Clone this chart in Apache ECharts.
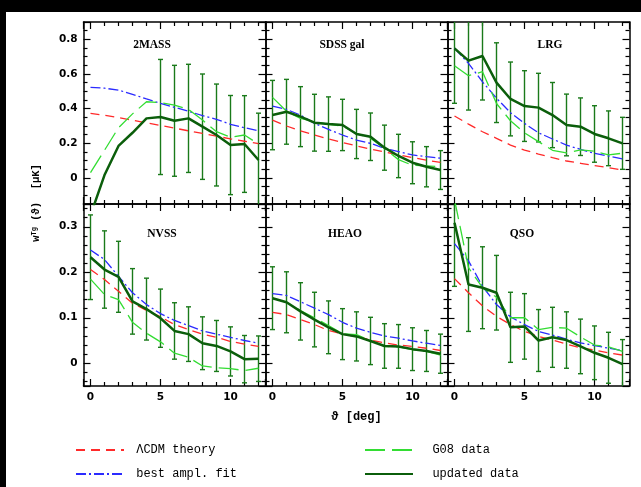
<!DOCTYPE html>
<html>
<head>
<meta charset="utf-8">
<script src="https://cdn.jsdelivr.net/npm/echarts@6/dist/echarts.min.js"></script>
<style>
html,body{margin:0;padding:0;background:#fff;}
#chart{width:641px;height:487px;}
</style>
</head>
<body>
<div id="chart"></div>
<script>
// angular separation (deg)
const theta = [0,1,2,3,4,5,6,7,8,9,10,11,12];
const panelNames = ['2MASS','SDSS gal','LRG','NVSS','HEAO','QSO'];
const seriesNames = ['\u039bCDM theory','best ampl. fit','G08 data','updated data'];

// 2MASS
const theory2MASS = [0.373,0.362,0.348,0.333,0.318,0.303,0.288,0.272,0.257,0.241,0.226,0.212,0.198];
const fit2MASS    = [0.523,0.518,0.507,0.483,0.456,0.430,0.408,0.385,0.360,0.338,0.310,0.290,0.273];
const g08_2MASS   = [0.031,0.160,0.290,0.370,0.440,0.435,0.421,0.396,0.334,0.267,0.235,0.248,0.196];
const upd2MASS    = [-0.215,0.017,0.185,0.261,0.344,0.352,0.330,0.344,0.296,0.248,0.190,0.196,0.104];
const err2MASS    = [null,null,null,null,null,0.332,0.320,0.312,0.304,0.294,0.286,0.279,0.270];
// SDSS gal
const theorySDSS = [0.334,0.300,0.272,0.248,0.225,0.205,0.185,0.167,0.150,0.133,0.118,0.103,0.090];
const fitSDSS    = [0.415,0.396,0.363,0.315,0.280,0.248,0.219,0.200,0.171,0.152,0.133,0.123,0.114];
const g08SDSS    = [0.465,0.385,0.344,0.325,0.310,0.300,0.256,0.230,0.170,0.106,0.073,0.070,0.065];
const updSDSS    = [0.363,0.382,0.354,0.319,0.311,0.306,0.254,0.238,0.175,0.127,0.088,0.065,0.046];
const errSDSS    = [0.200,0.187,0.173,0.164,0.157,0.148,0.142,0.137,0.130,0.125,0.121,0.116,0.112];
// LRG
const theoryLRG = [0.358,0.311,0.267,0.229,0.190,0.161,0.138,0.117,0.098,0.085,0.071,0.060,0.046];
const fitLRG    = [0.748,0.661,0.555,0.460,0.377,0.315,0.261,0.225,0.190,0.165,0.142,0.127,0.110];
const g08LRG    = [0.648,0.590,0.613,0.430,0.330,0.260,0.210,0.160,0.145,0.162,0.155,0.133,0.143];
const updLRG    = [0.748,0.677,0.704,0.550,0.456,0.415,0.406,0.363,0.306,0.296,0.254,0.229,0.200];
const errLRG    = [0.317,0.285,0.254,0.230,0.213,0.204,0.198,0.188,0.178,0.166,0.163,0.158,0.150];
// NVSS
const theoryNVSS = [0.206,0.184,0.158,0.132,0.116,0.102,0.085,0.074,0.064,0.057,0.048,0.042,0.037];
const fitNVSS    = [0.249,0.228,0.191,0.155,0.129,0.109,0.094,0.083,0.071,0.064,0.057,0.050,0.044];
const g08NVSS    = [0.185,0.151,0.140,0.090,0.066,0.047,0.022,0.013,-0.006,-0.010,-0.012,-0.016,-0.011];
const updNVSS    = [0.233,0.206,0.190,0.136,0.119,0.099,0.071,0.064,0.044,0.038,0.026,0.009,0.010];
const errNVSS    = [0.093,0.085,0.078,0.072,0.068,0.064,0.062,0.060,0.058,0.056,0.054,0.052,0.050];
// HEAO
const theoryHEAO = [0.112,0.107,0.096,0.085,0.072,0.064,0.059,0.051,0.045,0.040,0.037,0.033,0.028];
const fitHEAO    = [0.153,0.149,0.135,0.121,0.107,0.090,0.077,0.068,0.060,0.055,0.049,0.044,0.039];
const g08HEAO    = [0.143,0.134,0.116,0.100,0.083,0.065,0.063,0.050,0.037,0.036,0.030,0.026,0.018];
const updHEAO    = [0.143,0.134,0.114,0.096,0.079,0.064,0.059,0.049,0.038,0.037,0.031,0.027,0.021];
const errHEAO    = [0.069,0.067,0.063,0.060,0.058,0.056,0.054,0.052,0.049,0.048,0.047,0.045,0.043];
// QSO
const theoryQSO = [0.186,0.155,0.126,0.103,0.085,0.070,0.059,0.051,0.042,0.034,0.029,0.023,0.018];
const fitQSO    = [0.263,0.225,0.169,0.129,0.102,0.085,0.070,0.062,0.053,0.045,0.039,0.033,0.028];
const g08QSO    = [0.360,0.210,0.166,0.145,0.100,0.100,0.074,0.079,0.077,0.058,0.040,0.036,0.026];
const updQSO    = [0.309,0.173,0.166,0.155,0.079,0.081,0.050,0.057,0.051,0.037,0.023,0.012,-0.002];
const errQSO    = [0.140,0.103,0.090,0.082,0.077,0.072,0.068,0.066,0.062,0.060,0.059,0.056,0.054];

const panels = [
  [theory2MASS, fit2MASS, g08_2MASS, upd2MASS, err2MASS],
  [theorySDSS, fitSDSS, g08SDSS, updSDSS, errSDSS],
  [theoryLRG, fitLRG, g08LRG, updLRG, errLRG],
  [theoryNVSS, fitNVSS, g08NVSS, updNVSS, errNVSS],
  [theoryHEAO, fitHEAO, g08HEAO, updHEAO, errHEAO],
  [theoryQSO, fitQSO, g08QSO, updQSO, errQSO]
];

const titlePos = [[152,45],[342,45],[550,45],[162,234.5],[345,234.5],[522,234.5]];

const C_RED = '#ff2a2a', C_BLUE = '#2b2bff', C_LG = '#33dd33', C_DG = '#0b5e0b', C_ERR = '#1a7a1a';
const tickFont = {fontFamily:'DejaVu Sans', fontWeight:'bold', fontSize:10.5, color:'#000'};

const grids = [], xAxes = [], yAxes = [], series = [], graphics = [];
const GL = 83.5, GT = 22, GW = 182, GH = 182;

for (let g = 0; g < 6; g++) {
  const col = g % 3, row = Math.floor(g / 3);
  grids.push({left: GL + GW*col, top: GT + GH*row, width: GW, height: GH, containLabel:false});
  const axisLine = {show:true, onZero:false, lineStyle:{color:'#000', width:1.5}};
  const tick = {show:true, inside:true, length:7, lineStyle:{color:'#000', width:1.2}};
  const mtick = (n) => ({show:true, splitNumber:n, length:4, lineStyle:{color:'#000', width:1.2}});
  ['bottom','top'].forEach(pos => {
    xAxes.push({
      gridIndex:g, type:'value', position:pos, min:-0.5, max:12.5, splitNumber:3,
      axisLine, axisTick:tick, minorTick:mtick(5), splitLine:{show:false}, minorSplitLine:{show:false},
      axisLabel: Object.assign({show: row===1 && pos==='bottom', margin:6, showMinLabel:false, showMaxLabel:false}, tickFont),
      name: (g===4 && pos==='bottom') ? '\u03d1 [deg]' : '',
      nameLocation:'middle', nameGap:25,
      nameTextStyle:{fontFamily:'Liberation Mono, DejaVu Sans Mono', fontSize:12, color:'#000', fontWeight:'bold'}
    });
  });
  ['left','right'].forEach(pos => {
    yAxes.push({
      gridIndex:g, type:'value', position:pos,
      min: row===0 ? -0.15 : -0.05, max: row===0 ? 0.9 : 0.35, splitNumber: row===0 ? 5 : 4,
      axisLine, axisTick:tick, minorTick:mtick(row===0 ? 4 : 5), splitLine:{show:false}, minorSplitLine:{show:false},
      axisLabel: Object.assign({show: col===0 && pos==='left', margin:6, showMinLabel:false, showMaxLabel:false}, tickFont)
    });
  });
  const xi = 2*g, yi = 2*g;
  const [th, fi, g8, up, er] = panels[g];
  const pts = arr => theta.map((t,i) => [t, arr[i]]);
  series.push({name:seriesNames[0], type:'line', xAxisIndex:xi, yAxisIndex:yi, data:pts(th), symbol:'none', clip:true,
    lineStyle:{color:C_RED, width:1.3, type:[9,6]}, itemStyle:{color:C_RED}, silent:true, animation:false});
  series.push({name:seriesNames[1], type:'line', xAxisIndex:xi, yAxisIndex:yi, data:pts(fi), symbol:'none', clip:true,
    lineStyle:{color:C_BLUE, width:1.3, type:[10,3,2,3]}, itemStyle:{color:C_BLUE}, silent:true, animation:false});
  series.push({name:seriesNames[2], type:'line', xAxisIndex:xi, yAxisIndex:yi, data:pts(g8), symbol:'none', clip:true,
    lineStyle:{color:C_LG, width:1.3, type:[20,7]}, itemStyle:{color:C_LG}, silent:true, animation:false});
  const errData = [];
  theta.forEach((t,i) => { if (er[i] != null) errData.push([t, up[i]-er[i], up[i]+er[i]]); });
  series.push({type:'custom', xAxisIndex:xi, yAxisIndex:yi, data:errData, clip:true, silent:true, animation:false,
    encode:{x:0, y:[1,2]},
    renderItem: function(params, api){
      const x = api.value(0);
      const p1 = api.coord([x, api.value(1)]), p2 = api.coord([x, api.value(2)]);
      const c = 2.5, st = {stroke:C_ERR, lineWidth:1.4};
      return {type:'group', children:[
        {type:'line', shape:{x1:p1[0], y1:p1[1], x2:p2[0], y2:p2[1]}, style:st},
        {type:'line', shape:{x1:p1[0]-c, y1:p1[1], x2:p1[0]+c, y2:p1[1]}, style:st},
        {type:'line', shape:{x1:p2[0]-c, y1:p2[1], x2:p2[0]+c, y2:p2[1]}, style:st}
      ]};
    }});
  series.push({name:seriesNames[3], type:'line', xAxisIndex:xi, yAxisIndex:yi, data:pts(up), symbol:'none', clip:true,
    lineStyle:{color:C_DG, width:2.5, type:'solid'}, itemStyle:{color:C_DG}, silent:true, animation:false, z:3});
  graphics.push({type:'text', x:titlePos[g][0], y:titlePos[g][1], silent:true,
    style:{text:panelNames[g], align:'center', verticalAlign:'middle',
      font:'bold 11.5px "Liberation Serif", serif', fill:'#000'}});
}

graphics.push({type:'rect', shape:{x:0, y:0, width:641, height:12}, style:{fill:'#000'}, silent:true});
graphics.push({type:'rect', shape:{x:0, y:0, width:6, height:487}, style:{fill:'#000'}, silent:true});
graphics.push({type:'text', x:36, y:203, rotation:Math.PI/2, silent:true,
  style:{text:'{a|w}{b|Tg}{a| (\u03d1)  [\u03bcK]}', align:'center', verticalAlign:'middle',
    rich:{a:{fontFamily:'Liberation Mono, DejaVu Sans Mono', fontSize:10.5, fontWeight:'bold', fill:'#000'},
          b:{fontFamily:'Liberation Mono, DejaVu Sans Mono', fontSize:7, fontWeight:'bold', fill:'#000', verticalAlign:'top'}}}});

const legendText = {fontFamily:'Liberation Mono, DejaVu Sans Mono', fontSize:12, color:'#000'};
const legendCommon = {orient:'vertical', itemWidth:48, itemHeight:14, itemGap:12, padding:0, selectedMode:false,
  itemStyle:{opacity:0, borderWidth:0}, textStyle:legendText};
const option = {
  animation:false,
  backgroundColor:'#fff',
  grid: grids, xAxis: xAxes, yAxis: yAxes, series: series, graphic: graphics,
  legend: [
    Object.assign({data:[seriesNames[0], seriesNames[1]], left:75, top:444, formatter:' {name}'}, legendCommon),
    Object.assign({data:[seriesNames[2], seriesNames[3]], left:364, top:444, formatter:'  {name}'}, legendCommon)
  ]
};
const chart = echarts.init(document.getElementById('chart'), null, {renderer:'canvas'});
chart.setOption(option);
</script>
</body>
</html>
